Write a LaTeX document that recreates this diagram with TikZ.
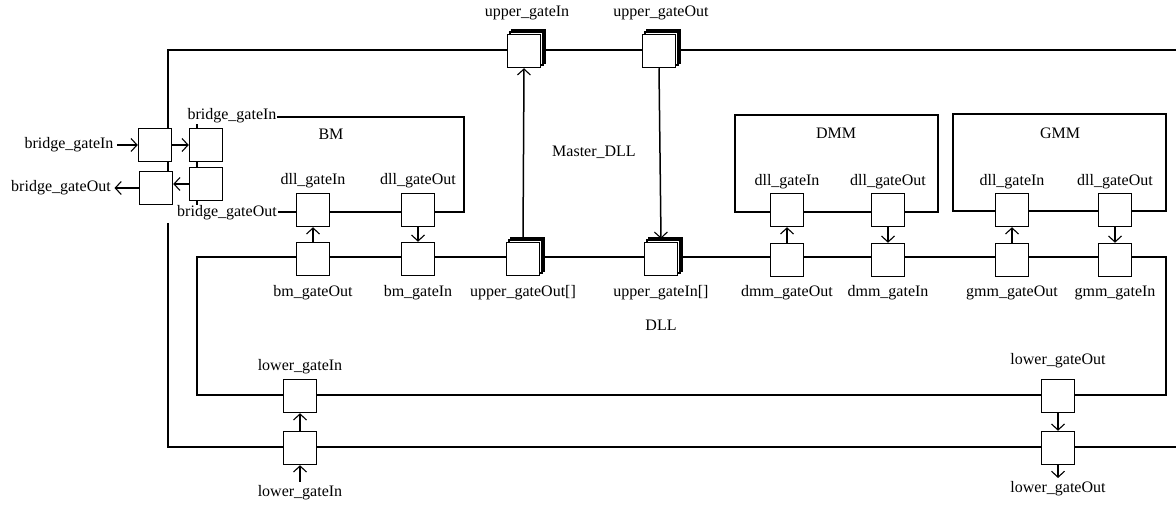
\documentclass[tikz,border=0pt]{standalone}
\usepackage{fontspec}
\setmainfont{Liberation Serif}
\usetikzlibrary{shadows,arrows.meta}
\begin{document}
\begin{tikzpicture}[x=1pt,y=-1pt,line width=1.5pt,
  font=\fontsize{16}{19}\selectfont,
  gate/.style={draw,fill=white,minimum size=33pt,inner sep=0pt},
  multigate/.style={gate,
    copy shadow={shadow xshift=4.5pt,shadow yshift=4.5pt,draw=black,fill=white},
    copy shadow={shadow xshift=2.25pt,shadow yshift=2.25pt,draw=black,fill=white}},
  lbl/.style={inner sep=1pt},
  wlbl/.style={inner sep=1pt,fill=white},
  arr/.style={-{Straight Barb[length=6pt,width=13pt,line width=1.1pt]}}]
\useasboundingbox (0,0) rectangle (1176,505);
% frames
\draw (1176,50) -- (168,50) -- (168,205);
\draw (168,223) -- (168,447) -- (1176,447);
\draw (197,257) rectangle (1166,395);
\draw (197,117) rectangle (464,212);
\draw (735,115) rectangle (938,212);
\draw (953,114) rectangle (1166,211);
% module titles
\node[lbl] (masterT) at (594,152) {Master\_DLL};
\node[lbl] (bmT) at (331,134) {BM};
\node[lbl] (dmmT) at (836,133) {DMM};
\node[lbl] (gmmT) at (1060,133) {GMM};
\node[lbl] (dllT) at (661,325) {DLL};
% upper gates
\node[multigate] (ugIn) at (524,51) {};
\node[multigate] (ugOut) at (659,51) {};
\node[lbl] (ugInL) at (527,13) {upper\_gateIn};
\node[lbl] (ugOutL) at (661,13) {upper\_gateOut};
\node[multigate] (ugOutA) at (523,259) {};
\node[multigate] (ugInA) at (661,259) {};
\node[lbl] (ugOutAL) at (523,293) {upper\_gateOut[]};
\node[lbl] (ugInAL) at (661,293) {upper\_gateIn[]};
\draw[arr] ([yshift=3pt]ugOutA.north) -- (ugIn.south);
\draw[arr] (ugOut.south) -- ([yshift=3pt]ugInA.north);
% bridge
\node[wlbl] (bInT) at (232,116) {bridge\_gateIn};
\node[wlbl] (bOutT) at (227,213) {bridge\_gateOut};
\node[gate] (bInO) at (155,145) {};
\node[gate] (bOutO) at (156,188) {};
\node[gate] (bInI) at (206,145) {};
\node[gate] (bOutI) at (206,184) {};
\node[lbl,inner sep=3pt] (bInL) at (69,145) {bridge\_gateIn};
\node[lbl,inner sep=3pt] (bOutL) at (61,188) {bridge\_gateOut};
\draw[arr] (bInL.east) -- (bInO.west);
\draw[arr] (bInO.east) -- (bInI.west);
\draw[arr] (bOutI.west) -- (bOutO.east |- bOutI.west);
\draw[arr] (bOutO.west) -- (bOutL.east);
% BM gates
\node[gate] (bmDIn) at (313,210) {};
\node[gate] (bmDOut) at (418,210) {};
\node[lbl] (bmDInL) at (313,181) {dll\_gateIn};
\node[lbl] (bmDOutL) at (418,181) {dll\_gateOut};
\node[gate] (bmOut) at (313,259) {};
\node[gate] (bmIn) at (418,259) {};
\node[lbl] (bmOutL) at (313,293) {bm\_gateOut};
\node[lbl] (bmInL) at (418,293) {bm\_gateIn};
\draw[arr] (bmOut.north) -- (bmDIn.south);
\draw[arr] (bmDOut.south) -- (bmIn.north);
% DMM gates
\node[gate] (dmDIn) at (787,210) {};
\node[gate] (dmDOut) at (888,210) {};
\node[lbl] (dmDInL) at (787,182) {dll\_gateIn};
\node[lbl] (dmDOutL) at (888,182) {dll\_gateOut};
\node[gate] (dmOut) at (787,260) {};
\node[gate] (dmIn) at (888,260) {};
\node[lbl] (dmOutL) at (787,293) {dmm\_gateOut};
\node[lbl] (dmInL) at (888,293) {dmm\_gateIn};
\draw[arr] (dmOut.north) -- (dmDIn.south);
\draw[arr] (dmDOut.south) -- (dmIn.north);
% GMM gates
\node[gate] (gmDIn) at (1012,210) {};
\node[gate] (gmDOut) at (1115,210) {};
\node[lbl] (gmDInL) at (1012,182) {dll\_gateIn};
\node[lbl] (gmDOutL) at (1115,182) {dll\_gateOut};
\node[gate] (gmOut) at (1012,260) {};
\node[gate] (gmIn) at (1115,260) {};
\node[lbl] (gmOutL) at (1012,293) {gmm\_gateOut};
\node[lbl] (gmInL) at (1115,293) {gmm\_gateIn};
\draw[arr] (gmOut.north) -- (gmDIn.south);
\draw[arr] (gmDOut.south) -- (gmIn.north);
% lower gates
\node[gate] (lInI) at (300,396) {};
\node[gate] (lInO) at (300,448) {};
\node[lbl] (lInIL) at (300,367) {lower\_gateIn};
\node[lbl,inner sep=3pt] (lInOL) at (300,493) {lower\_gateIn};
\draw[arr] (lInO.north) -- (lInI.south);
\draw[arr] (lInOL.north) -- (lInO.south);
\node[gate] (lOutI) at (1058,396) {};
\node[gate] (lOutO) at (1058,448) {};
\node[lbl] (lOutIL) at (1058,361) {lower\_gateOut};
\node[lbl,inner sep=3pt] (lOutOL) at (1058,489) {lower\_gateOut};
\draw[arr] (lOutI.south) -- (lOutO.north);
\draw[arr] (lOutO.south) -- (lOutOL.north);
\end{tikzpicture}
\end{document}
